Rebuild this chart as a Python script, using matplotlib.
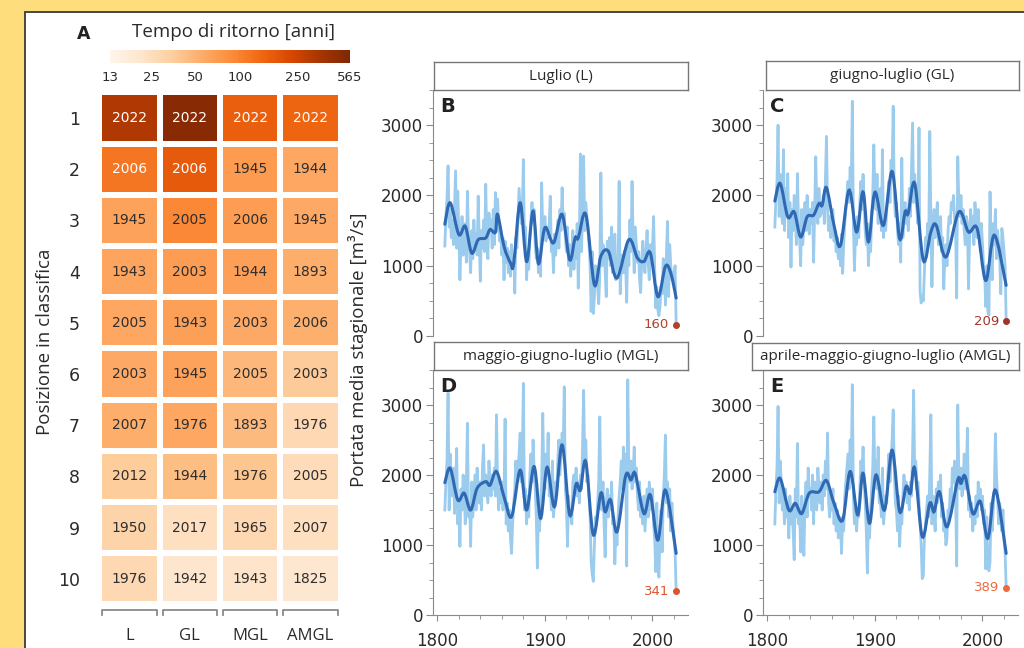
import numpy as np
import matplotlib
matplotlib.use('Agg')
import matplotlib.pyplot as plt
import matplotlib.patches as mpatches
from matplotlib.path import Path
from matplotlib.colors import LogNorm
from matplotlib.ticker import MultipleLocator, NullLocator

# ---------------- DATA ----------------
columns = ['L', 'GL', 'MGL', 'AMGL']
ranks = [1, 2, 3, 4, 5, 6, 7, 8, 9, 10]
rank_years = [
    [2022, 2022, 2022, 2022],
    [2006, 2006, 1945, 1944],
    [1945, 2005, 2006, 1945],
    [1943, 2003, 1944, 1893],
    [2005, 1943, 2003, 2006],
    [2003, 1945, 2005, 2003],
    [2007, 1976, 1893, 1976],
    [2012, 1944, 1976, 2005],
    [1950, 2017, 1965, 2007],
    [1976, 1942, 1943, 1825],
]
return_periods = [
    [321, 504, 157, 145],
    [116, 169, 70, 59],
    [63, 92, 68, 57],
    [61, 68, 66, 54],
    [59, 65, 57, 52],
    [57, 63, 47, 36],
    [54, 59, 45, 28],
    [35, 43, 39, 26],
    [31, 24, 28, 24],
    [28, 21, 22, 20],
]
cbar_ticks = [13, 25, 50, 100, 250, 565]

years = list(range(1807, 2023))

flow_L = [
    1280, 1700, 1950,
    2420, 1550, 1800, 1400, 1650, 1300, 1850, 2350, 1250, 2060,
    1500, 800, 1300, 1700, 1150, 1450, 1600, 1050, 2060, 1350,
    1200, 900, 1500, 1100, 1650, 1300, 1450, 1150, 1990, 1350,
    780, 1500, 1250, 1650, 1200, 2160, 1350, 1100, 1750, 1500,
    1650, 1250, 1800, 1300, 2040, 1500, 1950, 1600, 1350, 1450,
    1150, 1400, 800, 1350, 1050, 1250, 900, 1200, 850, 1300,
    1000, 1150, 610, 1400, 1250, 1700, 2100, 1850, 1600, 1750,
    2510, 1300, 1550, 800, 1200, 950, 1400, 1650, 1900, 1600,
    1800, 1300, 1100, 1250, 900, 1200, 850, 2180, 1450, 1500,
    1700, 1350, 1550, 1400, 1600, 1990, 1200, 1300, 900, 1450,
    1150, 1400, 1650, 1250, 1800, 1500, 2110, 1600, 1750, 1400,
    1200, 1550, 1000, 1300, 850, 1150, 1500, 950, 1400, 1100,
    1600, 680, 1350, 2590, 1200, 1750, 2560, 1500, 1900, 1700,
    1550, 1300, 1000, 350, 1200, 320, 550, 1000, 800, 700,
    460, 850, 2320, 1000, 1300, 1200, 900, 560, 1350, 1100,
    1400, 1000, 1550, 900, 1200, 1450, 800, 1100, 950, 2200,
    600, 1000, 1150, 900, 1200, 1050, 480, 1300, 1000, 1650,
    1200, 2200, 1400, 900, 1550, 1300, 1050, 1200, 800, 620,
    1100, 1350, 1000, 900, 1250, 1500, 1050, 800, 1300, 1100,
    1250, 1700, 1000, 400, 700, 370, 290, 420, 700, 600,
    1100, 900, 440, 1200, 1630, 560, 1300, 1000, 800, 900,
    850, 1000, 160,
]
flow_GL = [
    1550, 1950, 2200,
    3000, 1700, 2300, 1900, 1600, 2650, 1500, 2100, 1750, 2310,
    1400, 1900, 980, 1800, 1500, 2000, 1700, 1300, 2310, 1600,
    1400, 1000, 1800, 1300, 1600, 1900, 1500, 2000, 1700, 1450,
    1800, 1600, 1900, 1050, 1750, 2550, 1800, 1600, 2100, 1700,
    1900, 1750, 2000, 1600, 2200, 2840, 1800, 1500, 1700, 1400,
    1600, 1800, 1350, 1500, 1200, 1400, 1100, 1300, 1000, 1450,
    890, 1300, 1600, 1800, 2000, 2200, 1900, 2400, 2100, 3340,
    1600, 930, 1500, 1300, 1700, 1400, 1900, 2200, 1800, 2300,
    1900, 1500, 1300, 1600, 1000, 1400, 1200, 1700, 2000, 2720,
    2000, 1800, 2300, 1600, 1900, 2100, 1500, 2650, 1400, 1700,
    1500, 1800, 2000, 2200, 1900, 2500, 2300, 3270, 2000, 1700,
    1900, 1500, 1300, 1600, 1050, 2530, 1400, 1700, 1900, 1600,
    1800, 1500, 2100, 1700, 2400, 3030, 1900, 2300, 2000, 1800,
    1600, 2960, 630, 470, 570, 500, 900, 1400, 1200, 1600,
    1300, 2910, 1700, 700, 1500, 1800, 1400, 1600, 1900, 1300,
    1500, 1700, 1200, 1400, 670, 1100, 1300, 1000, 1500, 1700,
    1600, 1900, 1800, 2000, 1700, 1500, 540, 2550, 1900, 1700,
    2000, 1600, 1800, 1500, 1300, 1700, 1600, 670, 1400, 1800,
    1500, 1700, 1300, 1900, 1600, 1400, 1800, 1500, 1200, 1600,
    1300, 1000, 900, 420, 1000, 350, 300, 2050, 1200, 800,
    1600, 1300, 1800, 1100, 1500, 1300, 1100, 600, 1530, 1400,
    1200, 1000, 209,
]
flow_MGL = [
    1500, 1900, 2200,
    3170, 1500, 2300, 1900, 1700, 2100, 1450, 1800, 2380, 1300,
    1600, 980, 1800, 1500, 2000, 1700, 1300, 1900, 2740, 1400,
    1600, 980, 1900, 1400, 1700, 2000, 1500, 2100, 1800, 1600,
    1900, 1500, 2100, 2430, 1700, 2000, 1800, 1600, 2200, 1900,
    1700, 2000, 1800, 2100, 1700, 2860, 1900, 1500, 1800, 1600,
    1900, 1500, 1700, 2800, 1300, 1600, 1200, 1500, 1100, 880,
    1300, 1600, 1800, 2200, 1900, 2100, 2300, 2600, 1900, 2200,
    3310, 1500, 1800, 1300, 1700, 1400, 2000, 2300, 1900, 2500,
    2100, 1800, 1400, 670, 1500, 1200, 1600, 1900, 2880, 2000,
    1800, 2300, 2000, 2600, 1700, 1900, 1500, 2200, 1400, 1600,
    1900, 1700, 2200, 2500, 2000, 2300, 2600, 2400, 3260, 1800,
    1600, 980, 1700, 1400, 1500, 1300, 1900, 2000, 1800, 2100,
    1700, 1900, 1600, 2000, 1800, 2400, 3210, 2200, 2500, 1900,
    2000, 1700, 1400, 760, 580, 480, 1000, 1400, 1300, 1600,
    1900, 2830, 1700, 1500, 1900, 1300, 830, 1600, 1800, 1400,
    1700, 1500, 1900, 1300, 1400, 730, 1200, 1000, 1400, 1700,
    1900, 2200, 1800, 2400, 2000, 2300, 700, 3360, 2100, 1900,
    2200, 1800, 2000, 2400, 1900, 2100, 1700, 1500, 1900, 1400,
    1600, 1300, 1700, 1200, 1500, 1800, 1400, 1900, 1700, 1500,
    1800, 1300, 1100, 620, 1600, 650, 540, 1200, 1500, 900,
    1700, 2000, 2570, 1600, 1900, 1400, 1800, 1200, 1600, 1300,
    1100, 900, 341,
]
flow_AMGL = [
    1300, 1800, 2100,
    2980, 1600, 2200, 1900, 1500, 1700, 1300, 1800, 1400, 1600,
    1100, 1700, 1300, 1500, 1200, 790, 1800, 1400, 2450, 1300,
    1500, 900, 1700, 1200, 850, 1600, 1900, 1400, 2100, 1700,
    1800, 1500, 2000, 1300, 1900, 1700, 1500, 2100, 1800, 1600,
    1900, 1500, 2000, 1700, 2200, 1800, 2600, 1600, 1400, 1700,
    1500, 1800, 1300, 1600, 1200, 1500, 1100, 1400, 1300, 880,
    1400, 1200, 1700, 1900, 2100, 2300, 1800, 2500, 2000, 3290,
    1700, 1300, 1600, 1200, 1500, 1400, 1800, 2200, 2000, 2400,
    1900, 1600, 1200, 600, 1400, 1100, 1500, 1800, 2100, 2830,
    1900, 2200, 1800, 2400, 1600, 1700, 1400, 2100, 1300, 1500,
    1700, 1600, 2000, 2300, 1900, 2200, 2500, 2930, 2100, 1600,
    1500, 1200, 1700, 980, 1400, 1300, 1700, 2000, 1800, 1900,
    1600, 1800, 1500, 1900, 1700, 2300, 3210, 2000, 2200, 1800,
    1900, 1600, 1300, 1000, 520, 560, 1100, 1300, 1500, 1700,
    1400, 2000, 2860, 1300, 1700, 1500, 1200, 1800, 1600, 1900,
    1700, 2000, 1400, 1600, 1200, 1300, 1000, 1100, 1500, 1400,
    1800, 1600, 2100, 1900, 2200, 1700, 700, 3000, 2000, 1800,
    2100, 1700, 1900, 2300, 1800, 2000, 2670, 1500, 1700, 1400,
    1600, 1200, 1500, 1300, 1700, 1400, 1900, 1600, 1800, 1500,
    1700, 1300, 1500, 660, 1400, 730, 630, 760, 1600, 1200,
    1500, 1800, 2590, 2000, 1700, 1300, 1600, 1400, 1200, 1500,
    1100, 900, 389,
]

smooth_L_years = [1807, 1812, 1820, 1826, 1832, 1838, 1845, 1849, 1854, 1856, 1862, 1868, 1871, 1877,
                  1883, 1889, 1894, 1900, 1908, 1916, 1923, 1928, 1931, 1938, 1946, 1952, 1959, 1967,
                  1978, 1986, 1992, 1998, 2005, 2012, 2017, 2022]
smooth_L = [1590, 1895, 1445, 1560, 1180, 1370, 1395, 1515, 1475, 1730, 1275, 1040, 1030, 1895,
            1060, 1775, 1030, 1540, 1325, 1730, 1085, 1395, 1395, 1730, 730, 1135, 1205, 825,
            1370, 1110, 1060, 1180, 560, 990, 895, 540]
smooth_GL_years = [1807, 1812, 1819, 1825, 1831, 1837, 1843, 1848, 1851, 1855, 1862, 1868, 1876, 1883,
                   1889, 1894, 1900, 1908, 1916, 1923, 1928, 1931, 1937, 1945, 1952, 1957, 1966, 1978,
                   1987, 1995, 2003, 2011, 2022]
smooth_GL = [1920, 2170, 1695, 1765, 1410, 1695, 1720, 1885, 1860, 2110, 1575, 1290, 2075, 1480,
             2050, 1340, 2045, 1575, 2340, 1385, 1765, 1745, 2170, 1075, 1480, 1575, 1125, 1765,
             1480, 1530, 790, 1435, 720]
smooth_MGL_years = [1807, 1812, 1819, 1825, 1831, 1837, 1845, 1849, 1855, 1862, 1869, 1877, 1883, 1890,
                    1896, 1902, 1909, 1916, 1923, 1929, 1933, 1938, 1945, 1952, 1956, 1961, 1967, 1975,
                    1980, 1984, 1992, 1998, 2005, 2012, 2022]
smooth_MGL = [1890, 2095, 1645, 1740, 1500, 1810, 1905, 1855, 2050, 1690, 1405, 2070, 1500, 2120,
              1380, 2110, 1550, 2430, 1430, 1870, 1785, 2190, 1145, 1740, 1475, 1645, 1190, 1985,
              1930, 2015, 1450, 1715, 1070, 1785, 880]
smooth_AMGL_years = [1807, 1812, 1820, 1826, 1832, 1839, 1848, 1855, 1862, 1870, 1877, 1884, 1889, 1895,
                     1901, 1909, 1916, 1923, 1929, 1933, 1937, 1944, 1951, 1955, 1960, 1967, 1977, 1980,
                     1984, 1991, 1998, 2005, 2012, 2022]
smooth_AMGL = [1760, 1950, 1500, 1595, 1450, 1740, 1760, 1920, 1595, 1355, 2050, 1430, 2025, 1310,
               2000, 1500, 2355, 1475, 1835, 1740, 2095, 1120, 1595, 1475, 1760, 1260, 1930, 1880,
               1975, 1450, 1620, 1095, 1785, 880]

panel_letters = ['B', 'C', 'D', 'E']
panel_titles = ['Luglio (L)', 'giugno-luglio (GL)', 'maggio-giugno-luglio (MGL)',
                'aprile-maggio-giugno-luglio (AMGL)']

# ---------------- STYLE / LAYOUT ----------------
W, H = 1024, 648
CAL = ['Open Sans', 'DejaVu Sans']
plt.rcParams['font.family'] = ['DejaVu Sans']

fig = plt.figure(figsize=(W / 100, H / 100), dpi=100, facecolor='#fedd7d')


def box(x0, y0, x1, y1):
    return [x0 / W, 1 - y1 / H, (x1 - x0) / W, (y1 - y0) / H]


def curve_path(xs, ys):
    """Smooth Bezier path passing through the given points."""
    pts = np.column_stack([xs, ys]).astype(float)
    n = len(pts)
    verts = [pts[0]]
    codes = [Path.MOVETO]
    for i in range(n - 1):
        p0 = pts[i - 1] if i > 0 else pts[i]
        p1 = pts[i]
        p2 = pts[i + 1]
        p3 = pts[i + 2] if i + 2 < n else pts[i + 1]
        verts += [p1 + (p2 - p0) / 6.0, p2 - (p3 - p1) / 6.0, p2]
        codes += [Path.CURVE4] * 3
    return Path(verts, codes)


panel = mpatches.Rectangle((25 / W, -0.1), 1.2, 1.1 - 12 / H, transform=fig.transFigure,
                           facecolor='white', edgecolor='#3a3a3a', lw=1.3, zorder=0)
fig.add_artist(panel)

# ---- Heatmap (A) ----
cmap = plt.get_cmap('Oranges')
norm = LogNorm(vmin=13, vmax=565)
rp = np.array(return_periods, dtype=float)

axh = fig.add_axes(box(99.4, 92.4, 340.6, 604.4))
axh.pcolormesh(np.arange(len(columns) + 1), np.arange(len(ranks) + 1), rp, cmap=cmap, norm=norm,
               edgecolors='white', linewidth=4)
axh.set_xlim(0, len(columns))
axh.set_ylim(len(ranks), 0)
for i in range(len(ranks)):
    for j in range(len(columns)):
        tc = 'white' if norm(rp[i, j]) > 0.55 else '#2e2e2e'
        axh.text(j + 0.5, i + 0.5, str(rank_years[i][j]), ha='center', va='center',
                 fontsize=10, color=tc)
axh.set_yticks(np.arange(len(ranks)) + 0.5, labels=[str(r) for r in ranks])
axh.set_xticks(np.arange(len(columns)) + 0.5, labels=columns)
axh.tick_params(axis='y', length=0, pad=14, labelsize=12.5, labelcolor='#2a2a2a')
axh.tick_params(axis='x', length=0, pad=17, labelsize=12, labelcolor='#2a2a2a')
for lab in axh.get_xticklabels():
    lab.set_fontfamily(CAL)
for s in axh.spines.values():
    s.set_visible(False)
for j in range(len(columns)):
    axh.plot([j + 0.05, j + 0.05, j + 0.95, j + 0.95], [10.2, 10.1, 10.1, 10.2],
             color='#8a8a8a', lw=1.3, clip_on=False)

fig.text(45 / W, 1 - 342 / H, 'Posizione in classifica', rotation=90, ha='center', va='center',
         fontsize=13.5, color='#2a2a2a', family=CAL)

# colorbar
cax = fig.add_axes(box(110, 50, 350, 63))
cb = fig.colorbar(plt.cm.ScalarMappable(norm=norm, cmap=cmap), cax=cax, orientation='horizontal')
cb.outline.set_visible(False)
cb.set_ticks(cbar_ticks)
cb.set_ticklabels([str(t) for t in cbar_ticks])
cax.xaxis.set_minor_locator(NullLocator())
cax.tick_params(length=0, pad=6, labelsize=9.5, labelcolor='#2a2a2a')
fig.text(234 / W, 1 - 32 / H, 'Tempo di ritorno [anni]', ha='center', va='center', fontsize=13.5,
         color='#2a2a2a', family=CAL)
fig.text(84 / W, 1 - 34 / H, 'A', ha='center', va='center', fontsize=12.5, fontweight='bold',
         color='#222222')

# ---- Time series (B-E) ----
flows = [flow_L, flow_GL, flow_MGL, flow_AMGL]
smooth_years = [smooth_L_years, smooth_GL_years, smooth_MGL_years, smooth_AMGL_years]
smooths = [smooth_L, smooth_GL, smooth_MGL, smooth_AMGL]
ax_boxes = [(433, 90, 688, 336), (763, 90, 1018, 336), (433, 370, 688, 615), (763, 370, 1018, 615)]
strip_boxes = [(434, 62, 688, 90), (766, 61, 1019, 90), (434, 342, 688, 370), (752, 343, 1019, 370)]
end_colors = ['#b5412a', '#a8302a', '#e0532e', '#ee6a3c']
spine_c = '#8a8a8a'

for k in range(4):
    ax = fig.add_axes(box(*ax_boxes[k]))
    ax.set_facecolor('none')
    ax.plot(years, flows[k], color='#9bcbed', lw=2.0, zorder=2)
    ax.add_patch(mpatches.PathPatch(curve_path(smooth_years[k], smooths[k]), fill=False,
                                    edgecolor='#3069b3', lw=2.2, zorder=3, capstyle='round'))
    ax.plot(years[-1], flows[k][-1], 'o', color=end_colors[k], ms=4, zorder=4, clip_on=False)
    ax.annotate(str(flows[k][-1]), xy=(years[-1], flows[k][-1]), xytext=(-5, 0),
                textcoords='offset points', ha='right', va='center', fontsize=9.5,
                color=end_colors[k])
    ax.set_xlim(1796, 2033)
    ax.set_ylim(0, 3500)
    ax.yaxis.set_major_locator(MultipleLocator(1000))
    ax.yaxis.set_minor_locator(MultipleLocator(250))
    ax.spines['top'].set_visible(False)
    ax.spines['right'].set_visible(False)
    ax.spines['left'].set_color(spine_c)
    ax.spines['bottom'].set_color(spine_c)
    ax.tick_params(axis='y', which='major', length=5, color=spine_c, labelsize=12,
                   labelcolor='#2a2a2a', pad=2)
    ax.tick_params(axis='y', which='minor', length=3, color=spine_c)
    if k < 2:
        ax.spines['bottom'].set_visible(False)
        ax.set_xticks([])
    else:
        ax.xaxis.set_major_locator(MultipleLocator(100))
        ax.xaxis.set_minor_locator(MultipleLocator(20))
        ax.tick_params(axis='x', which='major', length=4, color=spine_c, labelsize=12,
                       labelcolor='#2a2a2a', pad=8)
        ax.tick_params(axis='x', which='minor', length=3, color=spine_c)
    ax.text(0.027, 0.97, panel_letters[k], transform=ax.transAxes, ha='left', va='top',
            fontsize=14, fontweight='bold', color='#222222')

    sax = fig.add_axes(box(*strip_boxes[k]))
    sax.set_xticks([])
    sax.set_yticks([])
    sax.set_facecolor('white')
    for s in sax.spines.values():
        s.set_color('#777777')
        s.set_linewidth(1.0)
    sax.text(0.5, 0.5, panel_titles[k], ha='center', va='center', fontsize=11,
             color='#2a2a2a', family=CAL, transform=sax.transAxes)

fig.text(358 / W, 1 - 350 / H, 'Portata media stagionale [m³/s]', rotation=90, ha='center',
         va='center', fontsize=13.5, color='#2a2a2a', family=CAL)

fig.savefig('out.png', dpi=100, facecolor=fig.get_facecolor())
